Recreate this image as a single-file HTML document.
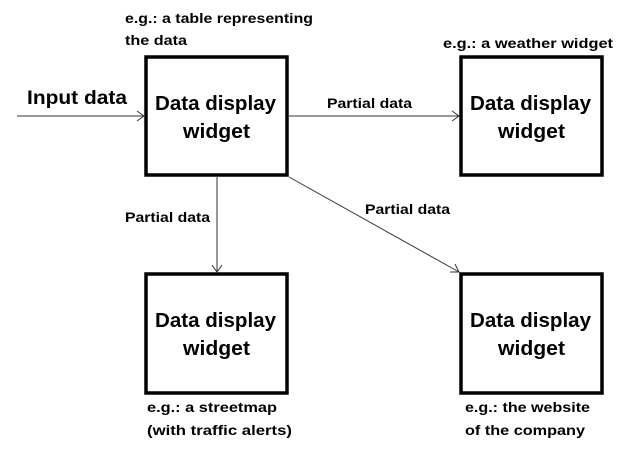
<!DOCTYPE html>
<html><head><meta charset="utf-8"><style>
html,body{margin:0;padding:0;background:#fff;}
svg{display:block;}
text{font-family:"Liberation Sans",sans-serif;font-weight:bold;fill:#000;}
</style></head><body>
<svg width="624" height="453" viewBox="0 0 624 453" xmlns="http://www.w3.org/2000/svg">
<g fill="none" stroke="#000" stroke-width="3.5">
<rect x="146" y="57" width="141" height="118"/>
<rect x="461" y="57" width="141" height="118"/>
<rect x="146" y="274" width="141" height="119"/>
<rect x="461" y="274" width="141" height="119"/>
</g>
<g stroke="#333" stroke-width="1" fill="none">
<line x1="17" y1="116" x2="144" y2="116"/>
<polyline points="137,111 144,116 137,121"/>
<line x1="289" y1="116" x2="459" y2="116"/>
<polyline points="452,111 459,116 452,121"/>
<line x1="217" y1="177" x2="217" y2="272"/>
<polyline points="212,265 217,272 222,265"/>
<line x1="289" y1="177" x2="459" y2="272"/>
<polyline points="450,272 459,272 455,264"/>
</g>
<g font-size="20">
<text x="155" y="110" textLength="121" lengthAdjust="spacingAndGlyphs">Data display</text>
<text x="183" y="138" textLength="67" lengthAdjust="spacingAndGlyphs">widget</text>
<text x="470" y="110" textLength="121" lengthAdjust="spacingAndGlyphs">Data display</text>
<text x="498" y="138" textLength="67" lengthAdjust="spacingAndGlyphs">widget</text>
<text x="155" y="327" textLength="121" lengthAdjust="spacingAndGlyphs">Data display</text>
<text x="183" y="355" textLength="67" lengthAdjust="spacingAndGlyphs">widget</text>
<text x="470" y="327" textLength="121" lengthAdjust="spacingAndGlyphs">Data display</text>
<text x="498" y="355" textLength="67" lengthAdjust="spacingAndGlyphs">widget</text>
</g>
<text x="27" y="104" font-size="19" textLength="100" lengthAdjust="spacingAndGlyphs">Input data</text>
<g font-size="14">
<text x="125" y="23" textLength="188" lengthAdjust="spacingAndGlyphs">e.g.: a table representing</text>
<text x="125" y="45" textLength="62" lengthAdjust="spacingAndGlyphs">the data</text>
<text x="443" y="48" textLength="170" lengthAdjust="spacingAndGlyphs">e.g.: a weather widget</text>
<text x="327" y="108" textLength="85" lengthAdjust="spacingAndGlyphs">Partial data</text>
<text x="125" y="222" textLength="85" lengthAdjust="spacingAndGlyphs">Partial data</text>
<text x="365" y="214" textLength="85" lengthAdjust="spacingAndGlyphs">Partial data</text>
<text x="147" y="412" textLength="130" lengthAdjust="spacingAndGlyphs">e.g.: a streetmap</text>
<text x="147" y="435" textLength="145" lengthAdjust="spacingAndGlyphs">(with traffic alerts)</text>
<text x="465" y="412" textLength="125" lengthAdjust="spacingAndGlyphs">e.g.: the website</text>
<text x="465" y="435" textLength="120" lengthAdjust="spacingAndGlyphs">of the company</text>
</g>
</svg>
</body></html>
